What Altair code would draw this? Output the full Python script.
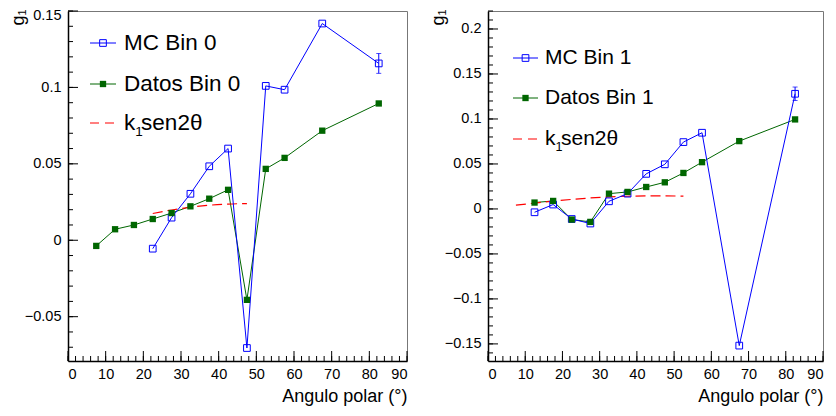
import altair as alt
import pandas as pd

# ---------------- data ----------------
bins = [7.5, 12.5, 17.5, 22.5, 27.5, 32.5, 37.5, 42.5, 47.5, 52.5, 57.5, 67.5, 82.5]

# Panel 0
mc0_x = [22.5, 27.5, 32.5, 37.5, 42.5, 47.5, 52.5, 57.5, 67.5, 82.5]
mc0_y = [-0.0055, 0.0148, 0.0304, 0.0484, 0.0600, -0.0705, 0.1010, 0.0985, 0.1418, 0.1157]
mc0_err = [0, 0, 0, 0, 0, 0, 0, 0, 0, 0.0065]
datos0_x = bins
datos0_y = [-0.0037, 0.0072, 0.0100, 0.0139, 0.0178, 0.0222, 0.0272, 0.0330, -0.0390,
            0.0467, 0.0539, 0.0717, 0.0895]
fit0_x = [22.5, 27.5, 32.5, 37.5, 42.5, 47.5]
fit0_y = [0.0175, 0.0198, 0.0216, 0.0229, 0.0237, 0.0240]

# Panel 1
mc1_x = bins[1:]
mc1_y = [-0.0037, 0.0049, -0.0112, -0.0162, 0.0085, 0.0170, 0.0390, 0.0496, 0.0743,
         0.0847, -0.1519, 0.1280]
mc1_err = [0, 0, 0, 0, 0, 0, 0, 0, 0, 0, 0, 0.0075]
datos1_x = bins[1:]
datos1_y = [0.0071, 0.0089, -0.0118, -0.0144, 0.0170, 0.0189, 0.0244, 0.0296, 0.0400,
            0.0520, 0.0754, 0.0995]
fit1_x = [7.5, 12.5, 17.5, 22.5, 27.5, 32.5, 37.5, 42.5, 47.5, 52.5]
fit1_y = [0.0042, 0.0065, 0.0087, 0.0106, 0.0122, 0.0134, 0.0141, 0.0145, 0.0145, 0.0142]

# axis ticks
x_major = [0, 10, 20, 30, 40, 50, 60, 70, 80, 90]
x_minor = list(range(0, 91, 2))
y0_major = [-0.05, 0, 0.05, 0.1, 0.15]
y0_minor = [round(-0.07 + 0.01 * i, 2) for i in range(23)]
y1_major = [-0.15, -0.1, -0.05, 0, 0.05, 0.1, 0.15, 0.2]
y1_minor = [round(-0.16 + 0.01 * i, 2) for i in range(39)]

legend0 = ["MC Bin 0", "Datos Bin 0", "sen2θ"]
legend1 = ["MC Bin 1", "Datos Bin 1", "sen2θ"]

FONT = "Liberation Sans"
BLUE = "#0000ff"
GREEN = "#006600"
RED = "#ff0000"


def panel(mc_x, mc_y, mc_err, da_x, da_y, fit_x, fit_y, ydom, ymaj, ymin, W, H,
          labels, leg_pos):
    xs = alt.Scale(domain=[0, 90], nice=False, zero=False)
    ys = alt.Scale(domain=ydom, nice=False, zero=False)
    xax = alt.Axis(values=x_major, format=".0f", ticks=False, grid=False,
                   labelOverlap=False, title="Angulo polar (°)", titleAnchor="end",
                   labelPadding=6, titlePadding=7)
    top_test = f"datum.value >= {ydom[1] - 1e-6}"
    yax = alt.Axis(values=ymaj, format=".2~f", ticks=False, grid=False,
                   labelOverlap=False, title="g₁", labelPadding=7,
                   labelOffset={"condition": {"test": top_test, "value": 4}, "value": 0},
                   titleX=-41, titleY=-2, titleAngle=270, titleAlign="right",
                   titleBaseline="bottom")

    mc = pd.DataFrame({"x": mc_x, "y": mc_y, "e": mc_err})
    mc["lo"] = mc["y"] - mc["e"]
    mc["hi"] = mc["y"] + mc["e"]
    mce = mc[mc["e"] > 0]
    da = pd.DataFrame({"x": da_x, "y": da_y})
    fit = pd.DataFrame({"x": fit_x, "y": fit_y})

    def X(f="x"):
        return alt.X(f"{f}:Q", scale=xs, axis=xax, title="Angulo polar (°)")

    def Y(f="y"):
        return alt.Y(f"{f}:Q", scale=ys, axis=yax, title="g₁")

    fit_l = alt.Chart(fit).mark_line(color=RED, strokeDash=[10, 5], strokeWidth=1.2,
                                     interpolate="monotone").encode(x=X(), y=Y())
    mc_l = alt.Chart(mc).mark_line(color=BLUE, strokeWidth=1).encode(x=X(), y=Y())
    err_r = alt.Chart(mce).mark_rule(color=BLUE, strokeWidth=1).encode(
        x=X(), y=Y("lo"), y2="hi:Q")
    cap_lo = alt.Chart(mce).mark_tick(color=BLUE, orient="horizontal", size=5,
                                      thickness=1).encode(x=X(), y=Y("lo"))
    cap_hi = alt.Chart(mce).mark_tick(color=BLUE, orient="horizontal", size=5,
                                      thickness=1).encode(x=X(), y=Y("hi"))
    mc_p = alt.Chart(mc).mark_point(shape="square", filled=False, color=BLUE, size=45,
                                    strokeWidth=1, opacity=1).encode(x=X(), y=Y())
    da_l = alt.Chart(da).mark_line(color=GREEN, strokeWidth=1).encode(x=X(), y=Y())
    da_p = alt.Chart(da).mark_point(shape="square", filled=True, color=GREEN, size=40,
                                    opacity=1).encode(x=X(), y=Y())

    # inward ROOT-style ticks
    t_xmaj = alt.Chart(pd.DataFrame({"t": x_major})).mark_rule(color="black").encode(
        x=X("t"), y=alt.value(H), y2=alt.value(H - 10))
    t_xmin = alt.Chart(pd.DataFrame({"t": x_minor})).mark_rule(color="black").encode(
        x=X("t"), y=alt.value(H), y2=alt.value(H - 5))
    t_ymaj = alt.Chart(pd.DataFrame({"t": ymaj})).mark_rule(color="black").encode(
        y=Y("t"), x=alt.value(0), x2=alt.value(10))
    t_ymin = alt.Chart(pd.DataFrame({"t": ymin})).mark_rule(color="black").encode(
        y=Y("t"), x=alt.value(0), x2=alt.value(5))

    # legend
    one = pd.DataFrame({"v": [0]})
    lx0, lx1, tx, ys_, fs = leg_pos
    cx = (lx0 + lx1) / 2
    leg = []
    leg.append(alt.Chart(one).mark_rule(color=BLUE, strokeWidth=1).encode(
        x=alt.value(lx0), x2=alt.value(lx1), y=alt.value(ys_[0])))
    leg.append(alt.Chart(one).mark_point(shape="square", filled=False, color=BLUE,
                                         size=45, strokeWidth=1, opacity=1).encode(
        x=alt.value(cx), y=alt.value(ys_[0])))
    leg.append(alt.Chart(one).mark_rule(color=GREEN, strokeWidth=1).encode(
        x=alt.value(lx0), x2=alt.value(lx1), y=alt.value(ys_[1])))
    leg.append(alt.Chart(one).mark_point(shape="square", filled=True, color=GREEN,
                                         size=40, opacity=1).encode(
        x=alt.value(cx), y=alt.value(ys_[1])))
    leg.append(alt.Chart(one).mark_rule(color=RED, strokeWidth=1.2,
                                        strokeDash=[9, 6]).encode(
        x=alt.value(lx0), x2=alt.value(lx1), y=alt.value(ys_[2])))
    for i in range(2):
        leg.append(alt.Chart(one).mark_text(align="left", baseline="middle", font=FONT,
                                            fontSize=fs, color="black").encode(
            x=alt.value(tx), y=alt.value(ys_[i]), text=alt.value(labels[i])))
    leg.append(alt.Chart(one).mark_text(align="left", baseline="middle", font=FONT,
                                        fontSize=fs, color="black").encode(
        x=alt.value(tx), y=alt.value(ys_[2]), text=alt.value("k")))
    leg.append(alt.Chart(one).mark_text(align="left", baseline="middle", font=FONT,
                                        fontSize=fs * 0.6, color="black").encode(
        x=alt.value(tx + fs * 0.5), y=alt.value(ys_[2] + fs * 0.38), text=alt.value("1")))
    leg.append(alt.Chart(one).mark_text(align="left", baseline="middle", font=FONT,
                                        fontSize=fs, color="black").encode(
        x=alt.value(tx + fs * 0.76), y=alt.value(ys_[2]), text=alt.value(labels[2])))

    return alt.layer(da_l, t_xmin, t_xmaj, t_ymin, t_ymaj, fit_l, mc_l, err_r, cap_lo,
                     cap_hi, mc_p, da_p, *leg).properties(width=W, height=H)


left = panel(mc0_x, mc0_y, mc0_err, datos0_x, datos0_y, fit0_x, fit0_y,
             [-0.079, 0.15], y0_major, y0_minor, 339, 350, legend0,
             (22, 48, 56, [32, 73, 112], 22.5))
right = panel(mc1_x, mc1_y, mc1_err, datos1_x, datos1_y, fit1_x, fit1_y,
              [-0.169, 0.22], y1_major, y1_minor, 335, 350, legend1,
              (25, 50, 57, [47, 87, 128], 21))

chart = alt.hconcat(left, right, spacing=20).properties(
    padding={"left": 0, "top": -2, "right": 0, "bottom": 0}
).configure(font=FONT).configure_view(stroke="#777777", strokeWidth=1).configure_axis(
    labelFont=FONT, titleFont=FONT, labelColor="black", titleColor="black",
    labelFontSize=14.5, titleFontSize=18, titleFontWeight="normal",
    domainColor="black", domainWidth=1.5)

chart.save("out.html", embed_options={"renderer": "svg", "actions": False})
